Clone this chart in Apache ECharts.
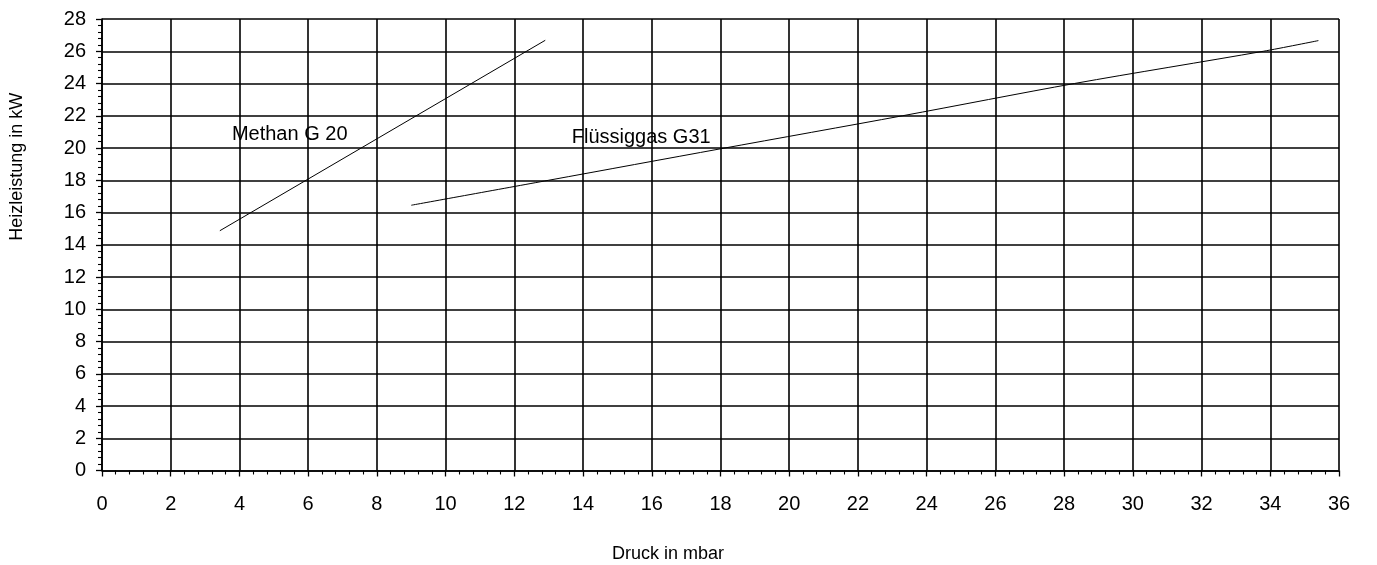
<!DOCTYPE html>
<html>
<head>
<meta charset="utf-8">
<script src="https://cdn.jsdelivr.net/npm/echarts@6/dist/echarts.min.js"></script>
<style>
  html, body { margin: 0; padding: 0; background: #fff; }
  #chart { width: 1377px; height: 565px; }
</style>
</head>
<body>
<div id="chart"></div>
<script>
// Druck (mbar) / Heizleistung (kW)
var methanPoints = [[3.43, 14.87], [12.9, 26.68]];
var fluessiggasPoints = [[9.0, 16.45], [13, 18], [18, 19.95], [23.3, 22], [28.3, 24], [33.8, 26], [35.4, 26.66]];

// curve labels and where they sit (data units)
var curveLabels = ["Methan G 20", "Flüssiggas G31"];
var curveLabelAt = [[3.78, 20.86], [13.67, 20.65]];

var xName = "Druck in mbar";
var yName = "Heizleistung in kW";

var font = "Liberation Sans, Arial, sans-serif";

var chart = echarts.init(document.getElementById("chart"));

var option = {
  backgroundColor: "#fff",
  animation: false,
  grid: {
    left: 102,
    top: 19,
    width: 1237,
    height: 451.5,
    containLabel: false,
    outerBoundsMode: "none"
  },
  xAxis: {
    type: "value",
    min: 0,
    max: 36,
    interval: 2,
    name: xName,
    nameLocation: "middle",
    nameGap: 75,
    nameTextStyle: {
      color: "#000",
      fontFamily: font,
      fontSize: 18,
      padding: [0, 105, 0, 0]
    },
    axisLine: { lineStyle: { color: "#000", width: 1.6 } },
    axisTick: { show: true, inside: false, length: 6, lineStyle: { color: "#000", width: 1.3 } },
    minorTick: { show: true, splitNumber: 5, length: 4, lineStyle: { color: "#000", width: 1.1 } },
    axisLabel: { color: "#000", fontFamily: font, fontSize: 20, margin: 24 },
    splitLine: { show: true, lineStyle: { color: "#000", width: 1.6 } }
  },
  yAxis: {
    type: "value",
    min: 0,
    max: 28,
    interval: 2,
    name: yName,
    nameLocation: "middle",
    nameGap: 76,
    nameTextStyle: {
      color: "#000",
      fontFamily: font,
      fontSize: 18,
      padding: [0, 0, 0, 156]
    },
    axisLine: { show: true, lineStyle: { color: "#000", width: 1.6 } },
    axisTick: { show: true, inside: false, length: 6, lineStyle: { color: "#000", width: 1.3 } },
    minorTick: { show: true, splitNumber: 5, length: 4, lineStyle: { color: "#000", width: 1.1 } },
    axisLabel: { color: "#000", fontFamily: font, fontSize: 20, margin: 16 },
    splitLine: { show: true, lineStyle: { color: "#000", width: 1.6 } }
  },
  series: [
    {
      name: "Methan G 20",
      type: "line",
      data: methanPoints,
      showSymbol: false,
      lineStyle: { color: "#000", width: 1 }
    },
    {
      name: "Flüssiggas G31",
      type: "line",
      data: fluessiggasPoints,
      showSymbol: false,
      smooth: 0.3,
      lineStyle: { color: "#000", width: 1 }
    },
    {
      name: "labels",
      type: "scatter",
      symbolSize: 0,
      itemStyle: { opacity: 1, color: "#000" },
      data: curveLabels.map(function (t, i) {
        return { value: curveLabelAt[i], name: t };
      }),
      label: {
        show: true,
        position: "right",
        distance: 0,
        formatter: "{b}",
        color: "#000",
        opacity: 1,
        fontFamily: font,
        fontSize: 20
      },
      silent: true
    }
  ]
};

chart.setOption(option);
</script>
</body>
</html>
